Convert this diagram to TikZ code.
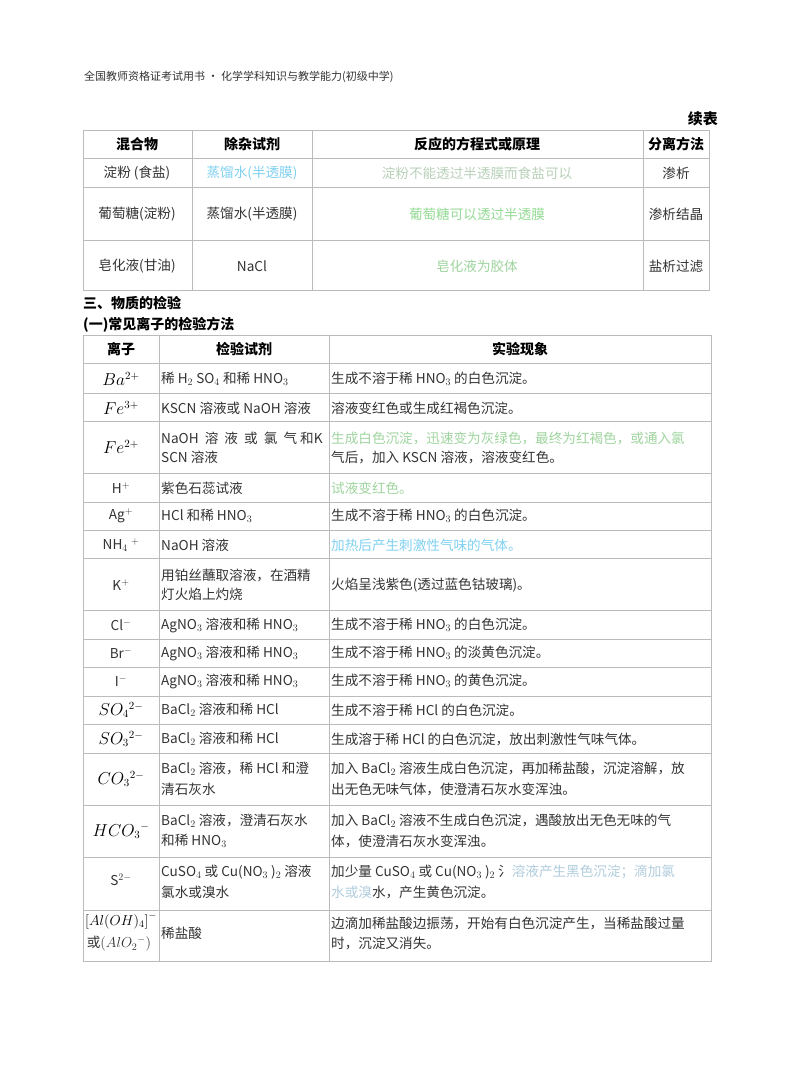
\documentclass[tikz,border=0pt]{standalone}
\usepackage{fontspec}
\setmainfont{Noto Sans CJK SC}
\definecolor{ln}{HTML}{BBBBBB}
\definecolor{lgreen}{HTML}{9FD49F}
\definecolor{pgreen}{HTML}{B8D0B8}
\definecolor{lblue}{HTML}{7FD0F0}
\definecolor{gblue}{HTML}{B0CCDD}
\definecolor{tx}{HTML}{333333}
\newcommand\sub[1]{$_{#1}$}
\begin{document}
\begin{tikzpicture}[x=1pt,y=-1pt,
  t/.style={anchor=west,inner sep=0pt,text=tx,font=\fontsize{13.6}{15}\selectfont},
  c/.style={anchor=center,inner sep=0pt,text=tx,font=\fontsize{13.6}{15}\selectfont},
  m/.style={anchor=center,inner sep=0pt,text=black,font=\fontsize{16}{18}\selectfont},
  h/.style={anchor=center,inner sep=0pt,text=black,font=\fontsize{14}{16}\selectfont\bfseries},
  g/.style={draw=ln,line width=0.8pt}]
\useasboundingbox (0,0) rectangle (800,1078);
\node[t,font=\fontsize{11}{13}\selectfont] (hdr) at (84,77) {全国教师资格证考试用书 • 化学学科知识与教学能力(初级中学)};
\node[anchor=east,inner sep=0pt,font=\fontsize{15}{17}\selectfont\bfseries] (xb) at (718,119) {续表};
% table 1
\draw[g] (83,130) rectangle (709,290);
\foreach \y in {158,187,240} \draw[g] (83,\y) -- (709,\y);
\foreach \x in {192,312,643} \draw[g] (\x,130) -- (\x,290);
\node[h] at (137,144) {混合物};
\node[h] at (252,144) {除杂试剂};
\node[h] at (477,144) {反应的方程式或原理};
\node[h] at (676,144) {分离方法};
\node[c] at (137,173) {淀粉 (食盐)};
\node[c,text=lblue] at (252,173) {蒸馏水(半透膜)};
\node[c,text=pgreen] at (477,173) {淀粉不能透过半透膜而食盐可以};
\node[c] at (676,173) {渗析};
\node[c] at (137,214) {葡萄糖(淀粉)};
\node[c] at (252,214) {蒸馏水(半透膜)};
\node[c,text=pgreen!80!green] at (477,214) {葡萄糖可以透过半透膜};
\node[c] at (676,214) {渗析结晶};
\node[c] at (137,266) {皂化液(甘油)};
\node[c] at (252,266) {NaCl};
\node[c,text=lgreen] at (477,266) {皂化液为胶体};
\node[c] at (676,266) {盐析过滤};
\node[t,text=black,font=\fontsize{14}{16}\selectfont\bfseries] at (83,303) {三、物质的检验};
\node[t,text=black,font=\fontsize{14}{16}\selectfont\bfseries] at (83,325) {(一)常见离子的检验方法};
% table 2
\draw[g] (83,335) rectangle (711,961);
\foreach \y in {363,393,421,473,502,530,558,610,639,667,696,724,753,805,857,910} \draw[g] (83,\y) -- (711,\y);
\foreach \x in {159,329} \draw[g] (\x,335) -- (\x,961);
\node[h] at (121,349) {离子};
\node[h] at (244,349) {检验试剂};
\node[h] at (520,349) {实验现象};
% rows
\node[m] at (121,379) {$Ba^{2+}$};
\node[t] at (161,379) {稀 H\sub2 SO\sub4\ 和稀 HNO\sub3};
\node[t] at (331,379) {生成不溶于稀 HNO\sub3\ 的白色沉淀。};
\node[m] at (121,408) {$Fe^{3+}$};
\node[t] at (161,408) {KSCN 溶液或 NaOH 溶液};
\node[t] at (331,408) {溶液变红色或生成红褐色沉淀。};
\node[m] at (121,447) {$Fe^{2+}$};
\node[t] at (161,438) {NaOH\ \ 溶\ \ 液\ \ 或\ \ 氯\ \ 气\ 和K};
\node[t] at (161,457) {SCN 溶液};
\node[t,text=lgreen] at (331,438) {生成白色沉淀，迅速变为灰绿色，最终为红褐色，或通入氯};
\node[t] at (331,457) {气后，加入 KSCN 溶液，溶液变红色。};
\node[c] at (121,488) {H$^+$};
\node[t] at (161,488) {紫色石蕊试液};
\node[t,text=lgreen] at (331,488) {试液变红色。};
\node[c] at (121,516) {Ag$^+$};
\node[t] at (161,516) {HCl 和稀 HNO\sub3};
\node[t] at (331,516) {生成不溶于稀 HNO\sub3\ 的白色沉淀。};
\node[c] at (121,545) {NH\sub4\ $^+$};
\node[t] at (161,545) {NaOH 溶液};
\node[t,text=lblue] at (331,545) {加热后产生刺激性气味的气体。};
\node[c] at (121,585) {K$^+$};
\node[t] at (161,575) {用铂丝蘸取溶液，在酒精};
\node[t] at (161,594) {灯火焰上灼烧};
\node[t] at (331,585) {火焰呈浅紫色(透过蓝色钴玻璃)。};
\foreach \yy/\ion/\ph in {625/Cl$^-$/白色沉淀。, 653/Br$^-$/淡黄色沉淀。, 681/I$^-$/黄色沉淀。}{
  \node[c] at (121,\yy) {\ion};
  \node[t] at (161,\yy) {AgNO\sub3\ 溶液和稀 HNO\sub3};
  \node[t] at (331,\yy) {生成不溶于稀 HNO\sub3\ 的\ph};
}
\node[m] at (121,710) {$SO_4{}^{2-}$};
\node[t] at (161,710) {BaCl\sub2\ 溶液和稀 HCl};
\node[t] at (331,710) {生成不溶于稀 HCl 的白色沉淀。};
\node[m] at (121,739) {$SO_3{}^{2-}$};
\node[t] at (161,739) {BaCl\sub2\ 溶液和稀 HCl};
\node[t] at (331,739) {生成溶于稀 HCl 的白色沉淀，放出刺激性气味气体。};
\node[m] at (121,779) {$CO_3{}^{2-}$};
\node[t] at (161,769) {BaCl\sub2\ 溶液，稀 HCl 和澄};
\node[t] at (161,789) {清石灰水};
\node[t] at (331,769) {加入 BaCl\sub2\ 溶液生成白色沉淀，再加稀盐酸，沉淀溶解，放};
\node[t] at (331,789) {出无色无味气体，使澄清石灰水变浑浊。};
\node[m] at (121,831) {$HCO_3{}^-$};
\node[t] at (161,821) {BaCl\sub2\ 溶液，澄清石灰水};
\node[t] at (161,841) {和稀 HNO\sub3};
\node[t] at (331,821) {加入 BaCl\sub2\ 溶液不生成白色沉淀，遇酸放出无色无味的气};
\node[t] at (331,841) {体，使澄清石灰水变浑浊。};
\node[c] at (121,880) {S$^{2-}$};
\node[t] at (161,872) {CuSO\sub4\ 或 Cu(NO\sub3\ )\sub2\ 溶液};
\node[t] at (161,892) {氯水或溴水};
\node[t] at (331,872) {加少量 CuSO\sub4\ 或 Cu(NO\sub3\ )\sub2\ 氵\textcolor{gblue}{溶液产生黑色沉淀；滴加氯}};
\node[t] at (331,892) {\textcolor{gblue}{水或溴}水，产生黄色沉淀。};
\node[m,font=\fontsize{14}{16}\selectfont] at (121,921) {$\left[Al(OH)_4\right]^-$};
\node[c] at (119,944) {或\fontsize{14}{16}\selectfont$\left(AlO_2{}^-\right)$};
\node[t] at (161,933) {稀盐酸};
\node[t] at (331,923) {边滴加稀盐酸边振荡，开始有白色沉淀产生，当稀盐酸过量};
\node[t] at (331,943) {时，沉淀又消失。};
\end{tikzpicture}
\end{document}
